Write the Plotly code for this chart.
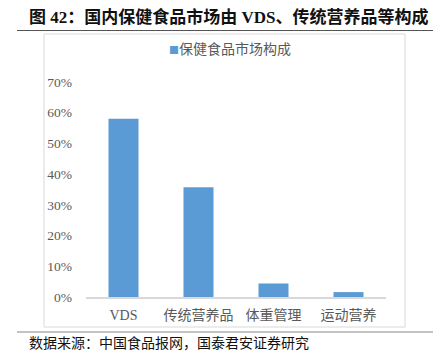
import plotly.graph_objects as go

categories = ["VDS", "传统营养品", "体重管理", "运动营养"]
shares = [0.58, 0.357, 0.044, 0.016]
series_name = "保健食品市场构成"
bar_color = "#5B9BD5"
y_ticks = [0, 0.1, 0.2, 0.3, 0.4, 0.5, 0.6, 0.7]
y_tick_labels = ["0%", "10%", "20%", "30%", "40%", "50%", "60%", "70%"]
title_text = "<b>图 42：国内保健食品市场由 VDS、传统营养品等构成</b>"
source_text = "数据来源：中国食品报网，国泰君安证券研究"

W, H = 440, 352
L, R, T, B = 86, 54, 82, 55
pw, ph = W - L - R, H - T - B


def px(x):
    return (x - L) / pw


def py(y):
    return (H - B - y) / ph


fig = go.Figure()
fig.add_trace(go.Bar(
    x=categories, y=shares, name=series_name,
    marker=dict(color=bar_color, line=dict(width=0)),
    showlegend=False,
))

fig.update_layout(
    width=W, height=H,
    margin=dict(l=L, r=R, t=T, b=B),
    paper_bgcolor="white", plot_bgcolor="white",
    bargap=0.6,
    font=dict(family="Liberation Serif, Noto Sans CJK SC", size=13, color="#595959"),
    xaxis=dict(
        showline=True, linecolor="#d9d9d9", linewidth=1.5,
        ticks="", showgrid=False, zeroline=False,
        ticklabelstandoff=4,
        tickfont=dict(family="Liberation Serif, Noto Sans CJK SC", size=14, color="#595959"),
    ),
    yaxis=dict(
        range=[0, 0.7], tickvals=y_ticks, ticktext=y_tick_labels,
        showgrid=False, zeroline=False, showline=False, ticks="",
        tickfont=dict(family="Liberation Serif", size=13.5, color="#595959"),
        ticklabelstandoff=13,
    ),
    shapes=[
        dict(type="rect", xref="paper", yref="paper",
             x0=px(44), x1=px(405), y0=py(327), y1=py(34),
             line=dict(color="#d9d9d9", width=1), layer="below"),
        dict(type="line", xref="paper", yref="paper",
             x0=px(17), x1=px(433), y0=py(30.5), y1=py(30.5),
             line=dict(color="#555555", width=1.2)),
        dict(type="line", xref="paper", yref="paper",
             x0=px(17), x1=px(433), y0=py(332), y1=py(332),
             line=dict(color="#888888", width=1.2)),
    ],
    annotations=[
        dict(text=title_text, xref="paper", yref="paper",
             x=px(27), y=py(16.5), xanchor="left", yanchor="middle", showarrow=False,
             font=dict(family="Liberation Serif, Noto Sans CJK SC", size=17, color="#111111")),
        dict(text=f"<span style='color:{bar_color};font-size:10px'>■</span>{series_name}",
             xref="paper", yref="paper",
             x=px(167), y=py(48), xanchor="left", yanchor="middle", showarrow=False,
             font=dict(family="Noto Sans CJK SC", size=14, color="#595959")),
        dict(text=source_text, xref="paper", yref="paper",
             x=px(27), y=py(341.5), xanchor="left", yanchor="middle", showarrow=False,
             font=dict(family="Noto Sans CJK SC", size=14, color="#111111")),
    ],
)

fig.write_html("out.html")
